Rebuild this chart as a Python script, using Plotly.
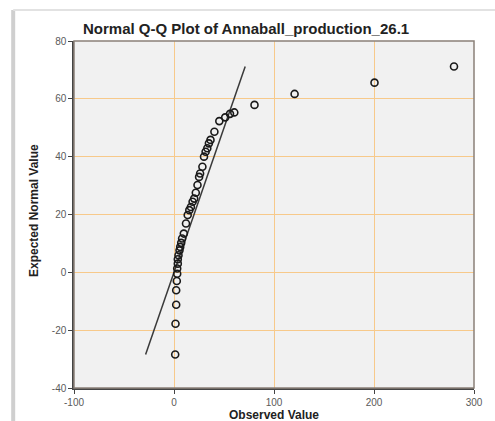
import plotly.graph_objects as go

observed = [1.2, 1.5, 2.2, 2.2, 2.8, 3.2, 3.2, 3.8, 3.8, 4.5, 5.5, 6.2, 7.2, 8.1, 9.8,
            12.0, 13.7, 15.3, 16.9, 18.6, 20.2, 21.8, 23.5, 25.1, 26.1, 28.4, 30.0,
            31.6, 33.3, 34.9, 36.5, 40.4, 45.3, 51.2, 56.0, 60.3, 80.5, 120.6, 200.5, 280.0]
expected = [-28.4, -17.8, -11.2, -6.2, -3.0, -0.5, 1.3, 3.0, 4.5, 5.9, 7.6, 8.8, 10.2, 11.7, 13.4,
            16.9, 19.8, 21.5, 22.6, 24.4, 25.5, 27.5, 30.2, 33.0, 34.2, 36.5, 40.0,
            41.7, 42.9, 44.6, 45.8, 48.6, 52.3, 53.6, 54.8, 55.3, 57.9, 61.7, 65.6, 71.2]

line_lo = min(expected)
line_hi = max(expected)

x_ticks = [-100, 0, 100, 200, 300]
x_labels = ["-100", "0", "100", "200", "300"]
y_ticks = [-40, -20, 0, 20, 40, 60, 80]
y_labels = ["-40", "-20", "0", "20", "40", "60", "80"]

fig = go.Figure()
fig.add_trace(go.Scatter(
    x=[line_lo, line_hi], y=[line_lo, line_hi], mode="lines",
    line=dict(color="#3a3a3a", width=1.5), hoverinfo="skip", showlegend=False))
fig.add_trace(go.Scatter(
    x=observed, y=expected, mode="markers",
    marker=dict(symbol="circle-open", size=7, color="#1a1a1a", line=dict(width=1.6)),
    showlegend=False))

axis_common = dict(showgrid=True, gridcolor="#F7C98A", gridwidth=1.2,
                   showline=True, linecolor="#444444", linewidth=1.5, mirror=False,
                   ticks="outside", ticklen=4, tickcolor="#444444",
                   tickfont=dict(family="Liberation Sans, Arial", size=10, color="#5a5a5a"),
                   zeroline=False)

fig.update_xaxes(range=[-100, 300], tickvals=x_ticks, ticktext=x_labels, **axis_common)
fig.update_yaxes(range=[-40, 80], tickvals=y_ticks, ticktext=y_labels, **axis_common)

# plot-area border (top/right)
fig.add_shape(type="rect", xref="paper", yref="paper", x0=0, x1=1, y0=0, y1=1,
              line=dict(color="#8a8078", width=1.5), layer="above")

# frame shadow (left and top edges)
fig.add_shape(type="line", xref="paper", yref="paper", x0=-0.152, x1=-0.152, y0=-0.2, y1=1.089,
              line=dict(color="#cfcfcf", width=4))
fig.add_shape(type="line", xref="paper", yref="paper", x0=-0.152, x1=1.1, y0=1.089, y1=1.089,
              line=dict(color="#e2e2e2", width=2))

fig.add_annotation(text="<b>Normal Q-Q Plot of Annaball_production_26.1</b>", xref="paper", yref="paper",
                   x=0.43, y=1.036, xanchor="center", yanchor="middle", showarrow=False,
                   font=dict(family="Liberation Sans, Arial", size=15, color="#222222"))
fig.add_annotation(text="<b>Expected Normal Value</b>", xref="paper", yref="paper",
                   x=-0.1, y=0.51, textangle=-90, xanchor="center", yanchor="middle",
                   showarrow=False, font=dict(family="Liberation Sans, Arial", size=12, color="#222222"))
fig.add_annotation(text="<b>Observed Value</b>", xref="paper", yref="paper",
                   x=0.5, y=-0.0775, xanchor="center", yanchor="middle",
                   showarrow=False, font=dict(family="Liberation Sans, Arial", size=12, color="#222222"))

fig.update_layout(width=495, height=421,
                  margin=dict(l=74, r=12, t=41, b=33),
                  plot_bgcolor="#F1F1F1", paper_bgcolor="white", showlegend=False)

fig.write_html("out.html")
